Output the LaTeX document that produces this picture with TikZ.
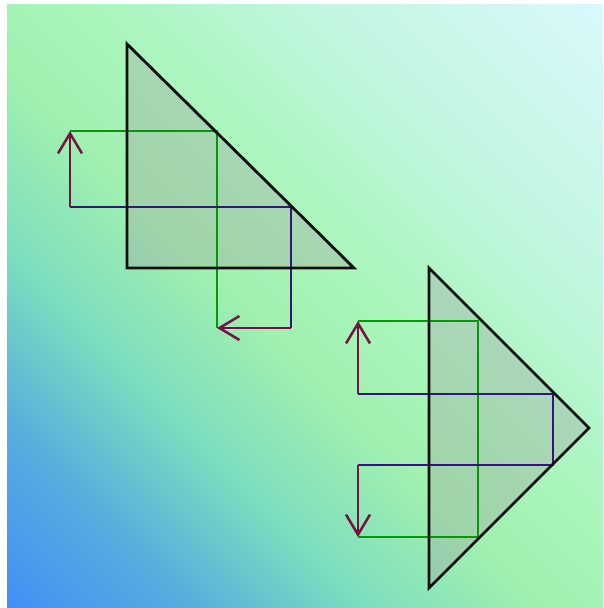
\documentclass[tikz,border=0pt]{standalone}
\usetikzlibrary{arrows.meta}
\definecolor{bgA}{RGB}{68,142,245}
\definecolor{bgB}{RGB}{88,172,222}
\definecolor{bgC}{RGB}{125,222,190}
\definecolor{bgD}{RGB}{160,240,175}
\definecolor{bgE}{RGB}{168,245,185}
\definecolor{bgF}{RGB}{192,246,222}
\definecolor{bgG}{RGB}{218,248,253}
\definecolor{triline}{RGB}{15,15,15}
\definecolor{grn}{RGB}{10,150,10}
\definecolor{prp}{RGB}{55,20,125}
\definecolor{mrn}{RGB}{115,20,65}
\definecolor{trifill}{RGB}{160,160,160}
\pgfdeclarehorizontalshading{bgshade}{100bp}{color(0bp)=(bgA); color(14.5bp)=(bgA); color(25.2bp)=(bgB); color(35.8bp)=(bgC); color(46.4bp)=(bgD); color(53.6bp)=(bgE); color(67.8bp)=(bgF); color(85.5bp)=(bgG); color(100bp)=(bgG)}
\tikzset{
  trifl/.style={fill=trifill, fill opacity=0.35},
  triedge/.style={draw=triline, line width=2.8pt, line join=miter},
  gline/.style={draw=grn, line width=2.7pt},
  pline/.style={draw=prp, line width=2.4pt},
  mline/.style={draw=mrn, line width=2.5pt, -{Straight Barb[length=20pt,width=24pt,line width=2.5pt]}},
}
\begin{document}
\begin{tikzpicture}[x=1pt,y=-1pt]
\useasboundingbox (0,0) rectangle (603,608);
\fill[white] (0,0) rectangle (603,608);
\shade[shading=bgshade, shading angle=45] (7,4) rectangle (603,608);
% first triangle
\coordinate (t1a) at (127,44);
\coordinate (t1b) at (127,268);
\coordinate (t1c) at (354,268);
\fill[trifl] (t1a) -- (t1b) -- (t1c) -- cycle;
\coordinate (g1a) at (70,131);
\coordinate (g1b) at (217,131);
\coordinate (g1c) at (217,328);
\coordinate (p1a) at (70,207);
\coordinate (p1b) at (291,207);
\coordinate (p1c) at (291,328);
\draw[gline] (g1a) -- (g1b) -- (g1c);
\draw[pline] (p1a) -- (p1b) -- (p1c);
\draw[mline] (p1a) -- (g1a);
\draw[mline] (p1c) -- (g1c);
\draw[triedge] (t1a) -- (t1b) -- (t1c) -- cycle;
% second triangle
\coordinate (t2a) at (429,268);
\coordinate (t2b) at (589,428);
\coordinate (t2c) at (429,588);
\fill[trifl] (t2a) -- (t2b) -- (t2c) -- cycle;
\coordinate (g2a) at (358,321);
\coordinate (g2b) at (478,321);
\coordinate (g2c) at (478,537);
\coordinate (g2d) at (358,537);
\coordinate (p2a) at (358,394);
\coordinate (p2b) at (553,394);
\coordinate (p2c) at (553,465);
\coordinate (p2d) at (358,465);
\draw[gline] (g2a) -- (g2b) -- (g2c) -- (g2d);
\draw[pline] (p2a) -- (p2b) -- (p2c) -- (p2d);
\draw[mline] (p2a) -- (g2a);
\draw[mline] (p2d) -- (g2d);
\draw[triedge] (t2a) -- (t2b) -- (t2c) -- cycle;
\end{tikzpicture}
\end{document}
